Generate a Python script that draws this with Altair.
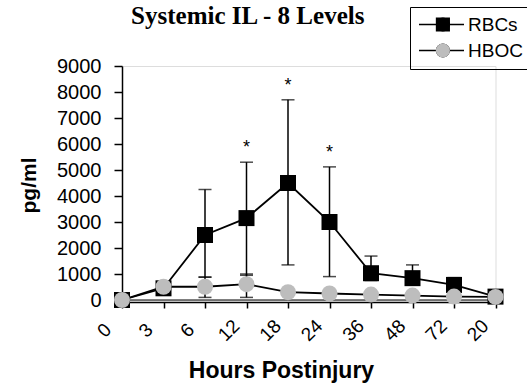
import altair as alt
import pandas as pd

hours = ["0", "3", "6", "12", "18", "24", "36", "48", "72", "20"]
series_names = ["RBCs", "HBOC"]
rbc_mean = [0, 450, 2500, 3150, 4500, 3000, 1030, 840, 580, 130]
rbc_low = [0, 350, 880, 950, 1350, 900, 750, 600, 350, 60]
rbc_high = [60, 600, 4250, 5300, 7700, 5120, 1690, 1350, 860, 200]
hboc_mean = [0, 510, 510, 610, 300, 250, 210, 170, 130, 120]
hboc_low = [0, 420, 100, 100, 220, 180, 140, 110, 80, 80]
hboc_high = [0, 600, 880, 1000, 380, 320, 280, 230, 180, 160]
star_hours = ["12", "18", "24"]
star_high = [5300, 7700, 5120]
y_ticks = [0, 1000, 2000, 3000, 4000, 5000, 6000, 7000, 8000, 9000]

rows = []
for name, m, lo, hi in [("RBCs", rbc_mean, rbc_low, rbc_high),
                        ("HBOC", hboc_mean, hboc_low, hboc_high)]:
    for h, mv, lv, hv in zip(hours, m, lo, hi):
        rows.append({"hour": h, "Series": name, "Group": name,
                     "value": mv, "lo": lv, "hi": hv})
df = pd.DataFrame(rows)
stars = pd.DataFrame({"hour": star_hours, "hi": star_high})

FONT = "Liberation Sans"

x_axis = alt.Axis(
    title="Hours Postinjury", titleFont=FONT, titleFontSize=23, titleFontWeight="bold",
    titleColor="black", titleX=159, titleY=75, titleAlign="center", titleBaseline="alphabetic",
    labelFont=FONT, labelFontSize=19, labelColor="black", labelAngle=315,
    labelAlign="center", labelBaseline="middle", labelOffset=-18, labelPadding=22,
    labelOverlap=False, labelFlush=False, labelBound=False,
    tickSize=6, tickWidth=1.5, tickColor="black", domainColor="black", domainWidth=1.5,
    offset=2, grid=False,
)
y_axis = alt.Axis(
    title="pg/ml", titleFont=FONT, titleFontSize=21, titleFontWeight="bold", titleColor="black",
    titleX=-93, titleY=119, titleAngle=270, titleAlign="center", titleBaseline="middle",
    values=y_ticks, format="d", labelFont=FONT, labelFontSize=20, labelColor="black",
    labelPadding=13, tickSize=8, tickWidth=1.5, tickColor="black", domainColor="black",
    domainWidth=1.5, grid=False,
)
x_scale = alt.Scale(type="point", padding=0)
y_scale = alt.Scale(domain=[0, 9000], nice=False)

X = alt.X("hour:N", sort=hours, scale=x_scale, axis=x_axis)

def Y(field):
    return alt.Y(field, scale=y_scale, axis=y_axis, title="pg/ml")

base = alt.Chart(df)

zero = alt.Chart(pd.DataFrame({"z": [0]})).mark_rule(color="black", strokeWidth=1.2).encode(
    y=Y("z:Q"))

leg1 = alt.Legend(title=None, orient="none", legendX=288, legendY=-59,
                  symbolType="stroke", symbolSize=2025, symbolStrokeWidth=1.5,
                  labelFont=FONT, labelFontSize=19, labelColor="black",
                  labelOffset=3, clipHeight=19, rowPadding=6, padding=8,
                  strokeColor="black", zindex=0)
lines = base.mark_line(strokeWidth=1.8).encode(
    x=X, y=Y("value:Q"),
    stroke=alt.Stroke("Series:N", sort=series_names,
                      scale=alt.Scale(range=["black", "black"]), legend=leg1),
)

err = base.mark_rule(color="black", strokeWidth=1.5).encode(x=X, y=Y("lo:Q"), y2="hi:Q")
cap_hi = base.mark_tick(color="black", orient="horizontal", size=13, thickness=1.5).encode(
    x=X, y=Y("hi:Q"))
cap_lo = base.mark_tick(color="black", orient="horizontal", size=13, thickness=1.5).encode(
    x=X, y=Y("lo:Q"))

leg2 = alt.Legend(title=None, orient="none", legendX=303.4, legendY=-59, symbolSize=200,
                  symbolStrokeWidth=0, labelFont=FONT, labelFontSize=19, labelExpr="' '",
                  labelOffset=3, clipHeight=19, rowPadding=6, padding=8, zindex=1)
points = base.mark_point(filled=True, size=256, opacity=1, strokeWidth=0).encode(
    x=X, y=Y("value:Q"),
    fill=alt.Fill("Group:N", sort=series_names,
                  scale=alt.Scale(range=["black", "#bdbdbd"]), legend=leg2),
    shape=alt.Shape("Group:N", sort=series_names,
                    scale=alt.Scale(range=["square", "circle"]), legend=leg2),
)

star_marks = alt.Chart(stars).mark_text(text="*", font=FONT, fontSize=18, dy=-14,
                                        color="black", baseline="middle").encode(
    x=X, y=Y("hi:Q"))

chart = alt.layer(zero, lines, err, cap_hi, cap_lo, points, star_marks).properties(
    width=373.5, height=234,
    title=alt.TitleParams("Systemic IL - 8 Levels", font="Liberation Serif", fontSize=25,
                          fontWeight="bold", color="black", anchor="middle", dx=-61,
                          baseline="alphabetic", offset=-42),
    autosize=alt.AutoSizeParams(type="none"),
    padding={"left": 122, "top": 66, "right": 31, "bottom": 88},
).configure_view(strokeWidth=0).configure(background="white")

chart.save("out.html", embed_options={"renderer": "svg", "actions": False})
